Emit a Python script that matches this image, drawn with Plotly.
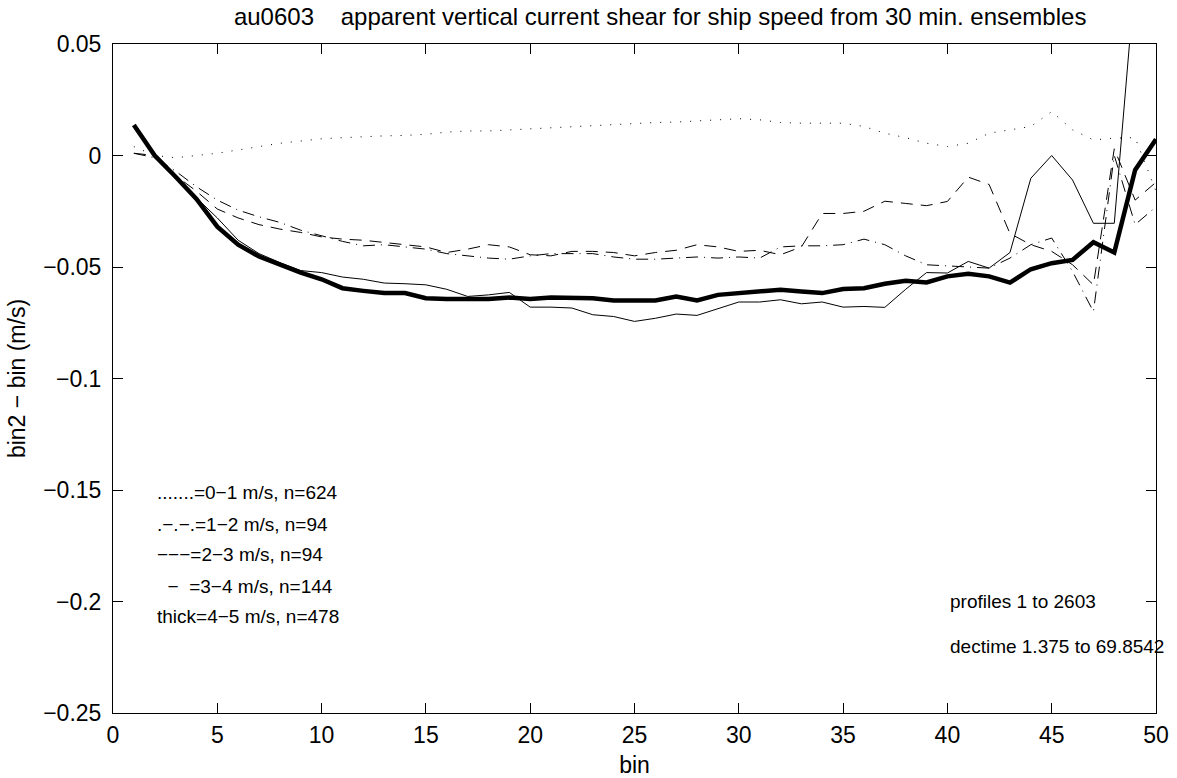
import plotly.graph_objects as go

bins = list(range(1, 51))

# 0-1 m/s (dotted)
speed_0_1 = [0.004, 0.000, -0.001, 0.000, 0.001, 0.0025, 0.004, 0.0055, 0.0065, 0.0075,
             0.008, 0.0085, 0.0088, 0.009, 0.0095, 0.0105, 0.011, 0.011, 0.0115, 0.012,
             0.0122, 0.013, 0.0135, 0.014, 0.0145, 0.0148, 0.015, 0.0155, 0.016, 0.0165,
             0.016, 0.0148, 0.0145, 0.0145, 0.0145, 0.013, 0.010, 0.008, 0.0055, 0.004,
             0.0055, 0.010, 0.0115, 0.013, 0.0197, 0.0115, 0.007, 0.0078, 0.008, -0.016]

# 1-2 m/s (dash-dot)
speed_1_2 = [0.001, -0.001, -0.007, -0.014, -0.020, -0.0245, -0.0275, -0.030, -0.0335, -0.036,
             -0.0385, -0.0405, -0.040, -0.041, -0.042, -0.044, -0.045, -0.046, -0.0465, -0.045,
             -0.044, -0.044, -0.044, -0.0455, -0.0465, -0.0465, -0.046, -0.0455, -0.046, -0.0455,
             -0.046, -0.041, -0.0405, -0.0405, -0.040, -0.0375, -0.040, -0.045, -0.049, -0.0495,
             -0.050, -0.0505, -0.046, -0.040, -0.037, -0.052, -0.070, 0.000, -0.031, -0.023]

# 2-3 m/s (dashed)
speed_2_3 = [0.001, 0.000, -0.009, -0.016, -0.024, -0.028, -0.031, -0.033, -0.0345, -0.0365,
             -0.0375, -0.038, -0.039, -0.040, -0.041, -0.0435, -0.042, -0.040, -0.041, -0.0445,
             -0.045, -0.043, -0.043, -0.0435, -0.045, -0.0435, -0.0425, -0.040, -0.041, -0.043,
             -0.0425, -0.0445, -0.041, -0.026, -0.026, -0.025, -0.0205, -0.0215, -0.0225, -0.0206,
             -0.0097, -0.013, -0.035, -0.040, -0.043, -0.049, -0.058, 0.003, -0.020, -0.012]

# 3-4 m/s (thin solid)
speed_3_4 = [0.013, 0.000, -0.010, -0.019, -0.028, -0.038, -0.044, -0.048, -0.0516, -0.0525,
             -0.0545, -0.0555, -0.0572, -0.0575, -0.058, -0.060, -0.0632, -0.0625, -0.0614, -0.068,
             -0.068, -0.0684, -0.0714, -0.0722, -0.0744, -0.073, -0.0711, -0.0717, -0.0688, -0.0657,
             -0.0657, -0.0647, -0.0665, -0.0657, -0.068, -0.0677, -0.0681, -0.060, -0.0525, -0.0527,
             -0.0475, -0.0505, -0.0435, -0.0102, 0.000, -0.011, -0.0304, -0.0304, 0.080, 0.090]

# 4-5 m/s (thick)
speed_4_5 = [0.0137, 0.000, -0.0095, -0.0195, -0.0319, -0.040, -0.0453, -0.049, -0.0525, -0.0555,
             -0.0595, -0.0607, -0.0617, -0.0617, -0.064, -0.0644, -0.0644, -0.0644, -0.0637, -0.0644,
             -0.0637, -0.064, -0.064, -0.065, -0.065, -0.065, -0.0632, -0.065, -0.0625, -0.0617,
             -0.0605, -0.0602, -0.061, -0.0617, -0.0599, -0.0595, -0.0575, -0.0562, -0.0569, -0.0542,
             -0.053, -0.0542, -0.057, -0.051, -0.0483, -0.0468, -0.0389, -0.0435, -0.0065, 0.0073]

x_ticks = [0, 5, 10, 15, 20, 25, 30, 35, 40, 45, 50]
x_ticktext = [str(v) for v in x_ticks]
y_ticks = [0.05, 0, -0.05, -0.1, -0.15, -0.2, -0.25]
y_ticktext = ["0.05", "0", "\u22120.05", "\u22120.1", "\u22120.15", "\u22120.2", "\u22120.25"]

legend_lines = [
    ".......=0\u22121 m/s, n=624",
    ".\u2212.\u2212.=1\u22122 m/s, n=94",
    "\u2212\u2212\u2212=2\u22123 m/s, n=94",
    "\u00a0\u00a0\u2212\u00a0\u00a0=3\u22124 m/s, n=144",
    "thick=4\u22125 m/s, n=478",
]
legend_y = [-0.1513, -0.1655, -0.1789, -0.1932, -0.2066]
legend_x = 2.03
info_lines = ["profiles 1 to 2603", "dectime 1.375 to 69.8542"]
info_y = [-0.1999, -0.2200]
info_x = 40.05

title_text = "au0603\u00a0\u00a0\u00a0\u00a0apparent vertical current shear for ship speed from 30 min. ensembles"

FONT = "Liberation Sans, Arial, Helvetica, sans-serif"
AX_SIZE = 23
TXT_SIZE = 19

fig = go.Figure()
styles = [
    (speed_0_1, "1px,9px", 1),
    (speed_1_2, "12px,6px,1px,6px", 1),
    (speed_2_3, "12px,8px", 1),
    (speed_3_4, "solid", 1),
    (speed_4_5, "solid", 4.5),
]
names = ["0-1 m/s", "1-2 m/s", "2-3 m/s", "3-4 m/s", "4-5 m/s"]
for (ys, dash, w), nm in zip(styles, names):
    fig.add_trace(go.Scatter(x=bins, y=ys, mode="lines", name=nm,
                             line=dict(color="black", width=w, dash=dash),
                             showlegend=False, cliponaxis=True))

for t, yv in zip(legend_lines, legend_y):
    fig.add_annotation(x=legend_x, y=yv, xref="x", yref="y", text=t, showarrow=False,
                       xanchor="left", yanchor="middle", font=dict(size=TXT_SIZE, color="black", family=FONT))
for t, yv in zip(info_lines, info_y):
    fig.add_annotation(x=info_x, y=yv, xref="x", yref="y", text=t, showarrow=False,
                       xanchor="left", yanchor="middle", font=dict(size=TXT_SIZE, color="black", family=FONT))

fig.update_layout(
    width=1177, height=778,
    margin=dict(l=113, r=21, t=44, b=65),
    paper_bgcolor="white", plot_bgcolor="white",
    font=dict(family=FONT, size=AX_SIZE, color="black"),
    title=dict(text=title_text, x=0.5246, xanchor="center", y=1 - 17 / 778, yanchor="middle",
               yref="container", xref="paper", font=dict(size=24, color="black", family=FONT)),
)
fig.update_xaxes(range=[0, 50], tickvals=x_ticks, ticktext=x_ticktext, ticks="inside", ticklen=10,
                 tickcolor="black", showline=True, linecolor="black", linewidth=1, mirror="ticks",
                 showgrid=False, zeroline=False, tickfont=dict(size=AX_SIZE), automargin=False,
                 title=dict(text="bin", standoff=14, font=dict(size=AX_SIZE)),
                 ticklabelstandoff=1)
fig.update_yaxes(range=[-0.25, 0.05], tickvals=y_ticks, ticktext=y_ticktext, ticks="inside", ticklen=10,
                 tickcolor="black", showline=True, linecolor="black", linewidth=1, mirror="ticks",
                 showgrid=False, zeroline=False, tickfont=dict(size=AX_SIZE), automargin=False,
                 title=dict(text="bin2 \u2212 bin (m/s)", standoff=11, font=dict(size=AX_SIZE)),
                 ticklabelstandoff=6)

fig.write_html("out.html")
